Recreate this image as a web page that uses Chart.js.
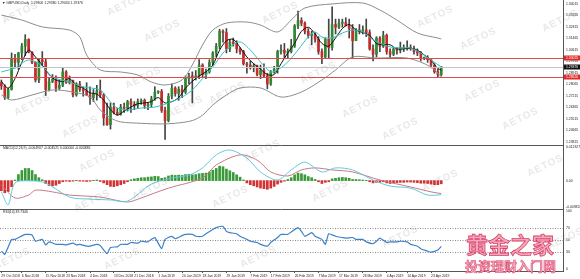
<!DOCTYPE html>
<html>
<head>
<meta charset="utf-8">
<script src="https://cdn.jsdelivr.net/npm/chart.js@4"></script>
<style>
body{margin:0;background:#fff;width:580px;height:279px;overflow:hidden;position:relative;font-family:"Liberation Sans",sans-serif}
canvas{position:absolute;left:0}
.t{position:absolute;font-size:3.4px;color:#222;white-space:nowrap}
.wm{position:absolute;font:bold 10px "Liberation Sans",sans-serif;color:rgba(120,120,120,0.17);transform:translate(-50%,-50%) rotate(-26deg);letter-spacing:1px;pointer-events:none}
.logo{position:absolute;font-family:"Noto Sans CJK SC";font-weight:bold;color:#f4a9ba;-webkit-text-stroke:0.8px #d8406a;white-space:nowrap;line-height:1}
</style>
</head>
<body>
<canvas id="main" width="580" height="145" style="top:0"></canvas>
<canvas id="macd" width="580" height="64" style="top:145px"></canvas>
<canvas id="rsi" width="580" height="70" style="top:209px"></canvas>
<div class="t" style="left:2px;top:1px">&#9660; GBPUSD,Daily&nbsp; 1.29306 1.29380 1.29034 1.29376</div>
<div class="t" style="left:3px;top:146px">MACD(12,26,9) -0.004907 -0.004521 0.000000 -0.000386</div>
<div class="t" style="left:3px;top:210px">RSI(14) 39.7346</div>
<div id="wms"></div>
<div class="logo" style="left:466px;top:232px;font-size:22px">黄金之家</div>
<div class="logo" style="left:465px;top:259px;font-size:13px;-webkit-text-stroke:0.5px #d8406a">投资理财入门网</div>
<script>
// daily bars, 29 Oct 2018 .. 26 Apr 2019
const opens = [1.2820,1.2795,1.2710,1.2770,1.3000,1.2970,1.3040,1.3090,1.3140,1.3045,
  1.2970,1.2840,1.2990,1.2975,1.2770,1.2830,1.2845,1.2780,1.2800,1.2900,
  1.2820,1.2835,1.2730,1.2810,1.2770,1.2760,1.2730,1.2710,1.2735,1.2760,
  1.2730,1.2560,1.2510,1.2640,1.2600,1.2590,1.2640,1.2630,1.2680,1.2660,
  1.2650,1.2680,1.2690,1.2650,1.2660,1.2700,1.2750,1.2755,1.2615,1.2540,
  1.2720,1.2780,1.2740,1.2770,1.2750,1.2850,1.2870,1.2860,1.2870,1.2950,
  1.2880,1.2900,1.2970,1.3040,1.3090,1.3200,1.3190,1.3070,1.3120,1.3110,
  1.3070,1.3050,1.2960,1.2950,1.2930,1.2945,1.2880,1.2910,1.2870,1.2810,
  1.2900,1.2920,1.3050,1.3060,1.3040,1.3050,1.3090,1.3240,1.3280,1.3260,
  1.3200,1.3170,1.3180,1.3140,1.3050,1.3010,1.3140,1.3080,1.3250,1.3230,
  1.3260,1.3265,1.3240,1.3220,1.3130,1.3210,1.3200,1.3210,1.3190,1.3070,
  1.3030,1.3150,1.3090,1.3170,1.3050,1.3030,1.3070,1.3060,1.3080,1.3070,
  1.3080,1.3070,1.3050,1.3040,1.3000,1.3005,1.2990,1.2950,1.2900,1.2880];
const highs = [1.2840,1.2805,1.2780,1.3040,1.3030,1.3045,1.3110,1.3175,1.3145,1.3050,
  1.2975,1.3000,1.3050,1.3000,1.2860,1.2880,1.2870,1.2840,1.2930,1.2910,
  1.2870,1.2840,1.2820,1.2830,1.2790,1.2820,1.2790,1.2770,1.2800,1.2840,
  1.2740,1.2670,1.2670,1.2670,1.2630,1.2660,1.2670,1.2690,1.2700,1.2680,
  1.2700,1.2700,1.2700,1.2670,1.2720,1.2790,1.2760,1.2770,1.2640,1.2740,
  1.2810,1.2790,1.2790,1.2800,1.2870,1.2890,1.2900,1.2910,1.2990,1.2960,
  1.2920,1.2990,1.3050,1.3110,1.3215,1.3210,1.3220,1.3140,1.3150,1.3130,
  1.3080,1.3060,1.2970,1.2980,1.2960,1.2950,1.2950,1.2960,1.2890,1.2910,
  1.2940,1.3060,1.3100,1.3110,1.3070,1.3140,1.3250,1.3350,1.3300,1.3270,
  1.3220,1.3200,1.3190,1.3160,1.3070,1.3150,1.3290,1.3380,1.3290,1.3290,
  1.3290,1.3300,1.3290,1.3250,1.3220,1.3250,1.3240,1.3290,1.3210,1.3100,
  1.3160,1.3160,1.3200,1.3180,1.3070,1.3080,1.3080,1.3120,1.3100,1.3130,
  1.3100,1.3090,1.3070,1.3050,1.3010,1.3020,1.3000,1.2960,1.2920,1.2940];
const lows = [1.2770,1.2696,1.2700,1.2765,1.2930,1.2920,1.2990,1.3020,1.3040,1.2960,
  1.2825,1.2820,1.2950,1.2725,1.2760,1.2820,1.2755,1.2770,1.2790,1.2815,
  1.2810,1.2715,1.2720,1.2755,1.2720,1.2725,1.2660,1.2680,1.2690,1.2710,
  1.2505,1.2505,1.2477,1.2590,1.2580,1.2580,1.2600,1.2610,1.2600,1.2620,
  1.2630,1.2660,1.2630,1.2620,1.2640,1.2690,1.2740,1.2600,1.2400,1.2530,
  1.2700,1.2720,1.2690,1.2710,1.2740,1.2810,1.2670,1.2840,1.2850,1.2860,
  1.2850,1.2890,1.2950,1.3010,1.3070,1.3120,1.3040,1.3050,1.3090,1.3040,
  1.3030,1.2950,1.2890,1.2920,1.2900,1.2870,1.2850,1.2860,1.2775,1.2800,
  1.2890,1.2890,1.3030,1.3000,1.3000,1.3040,1.3080,1.3220,1.3240,1.3180,
  1.3150,1.3100,1.3120,1.3030,1.2960,1.3000,1.3000,1.3060,1.3180,1.3220,
  1.3230,1.3240,1.3150,1.3000,1.3130,1.3180,1.3180,1.3160,1.3060,1.2980,
  1.3010,1.3050,1.3080,1.3030,1.3000,1.3020,1.3030,1.3040,1.3050,1.3060,
  1.3060,1.3030,1.3020,1.2980,1.2990,1.2970,1.2930,1.2890,1.2865,1.2870];
const closes = [1.2795,1.2710,1.2770,1.3000,1.2970,1.3040,1.3090,1.3140,1.3045,1.2970,
  1.2840,1.2990,1.2975,1.2770,1.2830,1.2845,1.2780,1.2800,1.2900,1.2820,
  1.2835,1.2730,1.2810,1.2770,1.2760,1.2730,1.2710,1.2735,1.2760,1.2730,
  1.2560,1.2510,1.2640,1.2600,1.2590,1.2640,1.2630,1.2680,1.2660,1.2650,
  1.2680,1.2690,1.2650,1.2660,1.2700,1.2750,1.2755,1.2615,1.2540,1.2720,
  1.2780,1.2740,1.2770,1.2750,1.2850,1.2870,1.2860,1.2870,1.2950,1.2880,
  1.2900,1.2970,1.3040,1.3090,1.3200,1.3190,1.3070,1.3120,1.3110,1.3070,
  1.3050,1.2960,1.2950,1.2930,1.2945,1.2880,1.2910,1.2870,1.2810,1.2900,
  1.2920,1.3050,1.3060,1.3040,1.3050,1.3090,1.3240,1.3280,1.3260,1.3200,
  1.3170,1.3180,1.3140,1.3050,1.3010,1.3140,1.3080,1.3250,1.3230,1.3260,
  1.3265,1.3240,1.3220,1.3130,1.3210,1.3200,1.3210,1.3190,1.3070,1.3030,
  1.3150,1.3090,1.3170,1.3050,1.3030,1.3070,1.3060,1.3080,1.3070,1.3080,
  1.3070,1.3050,1.3040,1.3000,1.3005,1.2990,1.2950,1.2900,1.2880,1.2937];

// indicator lines: [bar, value]
const maFast = [[0,1.2830],[2,1.2780],[4,1.2850],[6,1.2970],[8,1.3060],[10,1.3010],[12,1.2950],[14,1.2880],
  [16,1.2840],[18,1.2830],[20,1.2850],[22,1.2800],[24,1.2780],[26,1.2745],[28,1.2735],[30,1.2690],[32,1.2620],
  [34,1.2580],[36,1.2610],[38,1.2640],[40,1.2665],[42,1.2670],[44,1.2680],[46,1.2710],[48,1.2670],[50,1.2680],
  [52,1.2710],[54,1.2780],[56,1.2830],[58,1.2870],[60,1.2900],[62,1.2950],[64,1.3060],[66,1.3130],[68,1.3140],
  [70,1.3080],[72,1.3010],[74,1.2960],[76,1.2920],[78,1.2880],[80,1.2880],[82,1.2960],[84,1.3040],[86,1.3110],
  [88,1.3200],[90,1.3230],[92,1.3180],[94,1.3110],[96,1.3090],[98,1.3150],[100,1.3220],[102,1.3250],[104,1.3210],
  [106,1.3190],[108,1.3170],[110,1.3110],[112,1.3100],[114,1.3100],[116,1.3070],[118,1.3070],[120,1.3075],
  [122,1.3060],[124,1.3025],[126,1.2985],[128,1.2925],[129,1.2913]];
const maSlow = [[0,1.2899],[4,1.2929],[8,1.2988],[12,1.2943],[15,1.2862],[20,1.2825],[24,1.2788],[29,1.2766],
  [32,1.2677],[34,1.2633],[37,1.2618],[41,1.2633],[45,1.2640],[49,1.2670],[53,1.2714],[56,1.2766],[59,1.2850],
  [62,1.2936],[65,1.3039],[67,1.3084],[70,1.3121],[73,1.3062],[76,1.2973],[79,1.2899],[81,1.2914],[84,1.2973],
  [87,1.3062],[90,1.3158],[92,1.3195],[94,1.3158],[97,1.3150],[100,1.3187],[103,1.3209],[106,1.3195],[109,1.3136],
  [111,1.3113],[114,1.3084],[117,1.3076],[120,1.3076],[123,1.3039],[126,1.2988],[129,1.2936]];
const bandUp = [[0,1.3320],[6,1.3283],[12,1.3232],[20,1.3209],[23,1.3158],[25,1.3025],[29,1.2914],[35,1.2899],
  [40,1.2877],[44,1.2825],[48,1.2803],[53,1.2840],[56,1.2951],[59,1.3099],[62,1.3209],[66,1.3261],[72,1.3268],
  [76,1.3246],[81,1.3195],[85,1.3283],[89,1.3372],[97,1.3402],[106,1.3409],[111,1.3357],[116,1.3283],
  [122,1.3187],[128,1.3150],[129,1.3143]];
const bandDn = [[0,1.2729],[3,1.2692],[9,1.2729],[15,1.2766],[21,1.2751],[26,1.2714],[29,1.2618],[32,1.2560],
  [35,1.2530],[41,1.2520],[47,1.2515],[51,1.2520],[56,1.2540],[59,1.2580],[62,1.2655],[66,1.2729],[70,1.2781],
  [76,1.2781],[82,1.2714],[88,1.2751],[94,1.2840],[98,1.2914],[103,1.3010],[110,1.3002],[119,1.3002],
  [126,1.2936],[129,1.2862]];

const redLevels = [1.30025, 1.28620];
const lastPrice = 1.29376;
const priceTicks = [1.34015,1.33165,1.32315,1.31465,1.30615,1.29765,1.28915,1.28065,1.27215,1.26365,1.25515,1.24665,1.23815];

const macdLine = [[0,-0.0039],[2,-0.0084],[4,-0.0008],[9,-0.0001],[13,-0.0008],[20,-0.0057],[26,-0.0064],
  [32,-0.0067],[37,-0.0071],[44,-0.0012],[50,0.0009],[55,0.0019],[59,0.0044],[63,0.0089],[67,0.0106],
  [72,0.0078],[76,0.0030],[81,0.0002],[85,0.0037],[89,0.0064],[94,0.0030],[98,0.0044],[103,0.0037],
  [109,0.0002],[114,-0.0019],[120,-0.0026],[125,-0.0050],[129,-0.0049]];
const macdSignal = [[0,-0.0015],[4,-0.0060],[8,-0.0050],[10,-0.0033],[15,-0.0039],[20,-0.0050],[29,-0.0057],
  [37,-0.0074],[41,-0.0060],[49,-0.0026],[59,0.0009],[63,0.0054],[70,0.0089],[75,0.0071],[79,0.0030],
  [84,0.0016],[88,0.0037],[92,0.0044],[97,0.0037],[103,0.0030],[111,0.0002],[120,-0.0022],[126,-0.0039],[129,-0.0045]];
const macdHist = [-0.0035,-0.0042,-0.0038,-0.0021,0.0002,0.0021,0.0035,0.0042,0.0042,0.0035,
  0.0021,0.0010,0.0003,-0.0010,-0.0017,-0.0018,-0.0016,-0.0010,-0.0004,-0.0002,
  -0.0003,-0.0002,0.0001,-0.0002,-0.0002,-0.0003,-0.0002,0.0001,0.0002,-0.0003,
  -0.0008,-0.0014,-0.0020,-0.0021,-0.0018,-0.0014,-0.0010,-0.0004,0.0003,0.0006,
  0.0008,0.0010,0.0010,0.0012,0.0013,0.0015,0.0014,0.0008,0.0010,0.0016,
  0.0019,0.0018,0.0019,0.0018,0.0021,0.0022,0.0020,0.0021,0.0024,0.0025,
  0.0026,0.0030,0.0036,0.0042,0.0050,0.0048,0.0040,0.0034,0.0028,0.0020,
  0.0012,0.0002,-0.0008,-0.0014,-0.0018,-0.0022,-0.0026,-0.0028,-0.0030,-0.0026,
  -0.0020,-0.0012,-0.0006,-0.0002,0.0004,0.0010,0.0020,0.0026,0.0024,0.0020,
  0.0014,0.0010,0.0004,-0.0004,-0.0010,-0.0006,-0.0004,0.0006,0.0008,0.0010,
  0.0011,0.0010,0.0008,0.0004,0.0004,0.0003,0.0002,0.0001,-0.0004,-0.0008,
  -0.0006,-0.0006,-0.0004,-0.0008,-0.0010,-0.0008,-0.0007,-0.0006,-0.0006,-0.0005,
  -0.0005,-0.0006,-0.0007,-0.0009,-0.0009,-0.0010,-0.0012,-0.0014,-0.0014,-0.0011];
const macdMax = 0.012327, macdMin = -0.009828;

const rsi = [[0,32],[1,27],[3,51],[4,51],[7,59],[9,58],[10,48],[12,51],[13,42],[14,47],[16,43],[18,43],[19,42],
  [21,45],[22,42],[23,43],[25,40],[26,40],[28,43],[29,41],[31,28],[32,38],[34,39],[35,43],[37,43],[38,46],
  [40,45],[41,48],[43,47],[44,51],[45,54],[47,36],[48,51],[50,56],[51,52],[53,57],[54,59],[56,59],[57,56],
  [59,56],[60,60],[62,67],[63,70],[65,72],[66,64],[67,62],[69,60],[70,56],[72,51],[73,48],[75,46],[76,43],
  [78,40],[79,46],[81,54],[82,59],[84,59],[85,63],[87,70],[88,64],[89,56],[91,62],[92,56],[94,51],[95,43],
  [96,60],[98,56],[100,54],[101,53],[103,54],[104,51],[106,51],[107,47],[109,44],[110,48],[111,53],[113,46],
  [114,47],[116,47],[117,48],[119,47],[120,43],[122,40],[123,36],[125,32],[126,30.5],[128,34],[129,39.7]];
const rsiLevels = [70, 50, 30];

const tickLabels = ['29 Oct 2018','6 Nov 2018','15 Nov 2018','23 Nov 2018','4 Dec 2018','13 Dec 2018','21 Dec 2018',
  '1 Jan 2019','10 Jan 2019','18 Jan 2019','29 Jan 2019','7 Feb 2019','17 Feb 2019','26 Feb 2019','7 Mar 2019',
  '17 Mar 2019','26 Mar 2019','4 Apr 2019','14 Apr 2019','23 Apr 2019'];
const tickBars = [0,6,13,19,26,33,39,46,53,59,66,73,79,86,93,99,106,113,119,126];

const X_MIN = -0.4, X_MAX = 164.7, AXIS_W = 17;
const GREEN = '#2f8a2f', RED = '#cc2a2a';

Chart.defaults.font.family = '"Liberation Sans", sans-serif';
Chart.defaults.font.size = 3.4;
Chart.defaults.color = '#222';
Chart.defaults.animation = false;

const pts = arr => arr.map(p => ({x: p[0], y: p[1]}));
const line = (data, color, width) => ({type: 'line', data: pts(data), borderColor: color, borderWidth: width,
  pointRadius: 0, tension: 0.3, order: 0});

const fitY = s => { s.width = AXIS_W; s.paddingTop = 0; s.paddingBottom = 0; };
const xHidden = {type: 'linear', min: X_MIN, max: X_MAX, offset: false, display: false};
const yRight = extra => Object.assign({position: 'right', offset: false,
  grid: {display: false, drawTicks: false}, border: {display: true, color: '#555'},
  ticks: {padding: 3, autoSkip: false}, afterFit: fitY}, extra);

function hline(ctx, a, py, color, dash) {
  ctx.save();
  ctx.strokeStyle = color;
  ctx.lineWidth = 1;
  ctx.setLineDash(dash || []);
  ctx.beginPath();
  ctx.moveTo(a.left, Math.round(py) + 0.5);
  ctx.lineTo(a.right, Math.round(py) + 0.5);
  ctx.stroke();
  ctx.restore();
}
function tag(chart, value, bg) {
  const {ctx, chartArea: a, scales: {y}} = chart;
  const py = Math.round(y.getPixelForValue(value));
  ctx.save();
  ctx.fillStyle = bg;
  ctx.fillRect(a.right + 1, py - 2.5, 580 - a.right - 1, 5);
  ctx.fillStyle = '#fff';
  ctx.font = '3.4px "Liberation Sans", sans-serif';
  ctx.textBaseline = 'middle';
  ctx.fillText(value.toFixed(5), a.right + 3, py);
  ctx.restore();
}
const topRule = {
  id: 'topRule',
  afterDraw(chart) { hline(chart.ctx, {left: 0, right: chart.chartArea.right}, chart.chartArea.top, '#555'); }
};

// main price panel
new Chart(document.getElementById('main'), {
  type: 'bar',
  data: {
    datasets: [
      {data: closes.map((c, i) => ({x: i, y: [lows[i], highs[i]]})), backgroundColor: '#444',
        barThickness: 1, grouped: false, order: 2},
      {data: closes.map((c, i) => ({x: i, y: [opens[i], c]})), grouped: false, order: 1,
        backgroundColor: closes.map((c, i) => c >= opens[i] ? GREEN : RED), barThickness: 2, minBarLength: 1},
      line(bandUp, '#8c8c8c', 1),
      line(bandDn, '#8c8c8c', 1),
      line(maSlow, '#33c2c2', 1),
      line(maFast, '#111', 1)
    ]
  },
  options: {
    responsive: false,
    layout: {padding: 0},
    plugins: {legend: {display: false}, tooltip: {enabled: false}},
    scales: {
      x: xHidden,
      y: yRight({min: 1.23595, max: 1.34311,
        afterBuildTicks: s => { s.ticks = priceTicks.map(v => ({value: v})); },
        ticks: {padding: 3, autoSkip: false, callback: v => v.toFixed(5)}})
    }
  },
  plugins: [{
    id: 'levels',
    afterDatasetsDraw(chart) {
      const {ctx, chartArea: a, scales: {y}} = chart;
      hline(ctx, a, y.getPixelForValue(lastPrice), '#c4c4c4');
      redLevels.forEach(v => hline(ctx, a, y.getPixelForValue(v), '#dd4b4b'));
    },
    afterDraw(chart) {
      redLevels.forEach(v => tag(chart, v, '#e02a2a'));
      tag(chart, lastPrice, '#111');
    }
  }]
});

// MACD panel
const macdTicks = [[0.0117, macdMax.toFixed(6)], [0, '0.00'], [-0.0093, macdMin.toFixed(6)]];
new Chart(document.getElementById('macd'), {
  type: 'bar',
  data: {
    datasets: [
      {data: macdHist.map((v, i) => ({x: i, y: v})), backgroundColor: macdHist.map(v => v >= 0 ? '#3a9a3a' : '#d23232'),
        barThickness: 2, grouped: false, order: 1},
      line(macdLine, '#63c9dc', 1),
      line(macdSignal, '#c47a86', 1)
    ]
  },
  options: {
    responsive: false,
    layout: {padding: 0},
    plugins: {legend: {display: false}, tooltip: {enabled: false}},
    scales: {
      x: xHidden,
      y: yRight({min: macdMin, max: macdMax,
        afterBuildTicks: s => { s.ticks = macdTicks.map(t => ({value: t[0]})); },
        ticks: {padding: 3, autoSkip: false, callback: (v, i) => macdTicks[i][1]}})
    }
  },
  plugins: [topRule]
});

// RSI panel
const rsiTicks = [[97, '100'], [70, '70'], [50, '50'], [30, '30'], [3, '0']];
new Chart(document.getElementById('rsi'), {
  type: 'line',
  data: {datasets: [Object.assign(line(rsi, '#3b82c8', 1.2), {tension: 0.15})]},
  options: {
    responsive: false,
    layout: {padding: 0},
    plugins: {legend: {display: false}, tooltip: {enabled: false}},
    scales: {
      x: {type: 'linear', min: X_MIN, max: X_MAX, offset: false,
        afterBuildTicks: s => { s.ticks = tickBars.map(v => ({value: v})); },
        afterFit: s => { s.height = 8; s.paddingLeft = 0; s.paddingRight = 0; },
        grid: {drawOnChartArea: false, drawTicks: true, tickLength: 2, color: '#555'},
        border: {display: true, color: '#555'},
        ticks: {align: 'start', padding: 1, maxRotation: 0, autoSkip: false,
          callback: (v, i) => tickLabels[i]}},
      y: yRight({min: 0, max: 100,
        afterBuildTicks: s => { s.ticks = rsiTicks.map(t => ({value: t[0]})); },
        ticks: {padding: 3, autoSkip: false, callback: (v, i) => rsiTicks[i][1]}})
    }
  },
  plugins: [topRule, {
    id: 'rsiLevels',
    beforeDatasetsDraw(chart) {
      const {ctx, chartArea: a, scales: {y}} = chart;
      rsiLevels.forEach(v => hline(ctx, a, y.getPixelForValue(v), '#8a8a8a', [1, 1.5]));
    }
  }]
});

// AETOS watermark
const wmSpots = [[20,12],[125,4],[162,30],[280,12],[325,40],[435,16],[478,38],[560,20],
  [143,77],[185,106],[32,104],[80,126],[227,92],[318,72],[360,106],[482,90],[520,118],[400,128],
  [97,160],[262,150],[150,188],[92,200],[230,196],[330,190],[440,180],[545,165],
  [12,258],[122,258],[258,256],[400,236],[565,238]];
document.getElementById('wms').innerHTML = wmSpots
  .map(p => `<div class="wm" style="left:${p[0]}px;top:${p[1]}px">AETOS</div>`).join('');
</script>
</body>
</html>
